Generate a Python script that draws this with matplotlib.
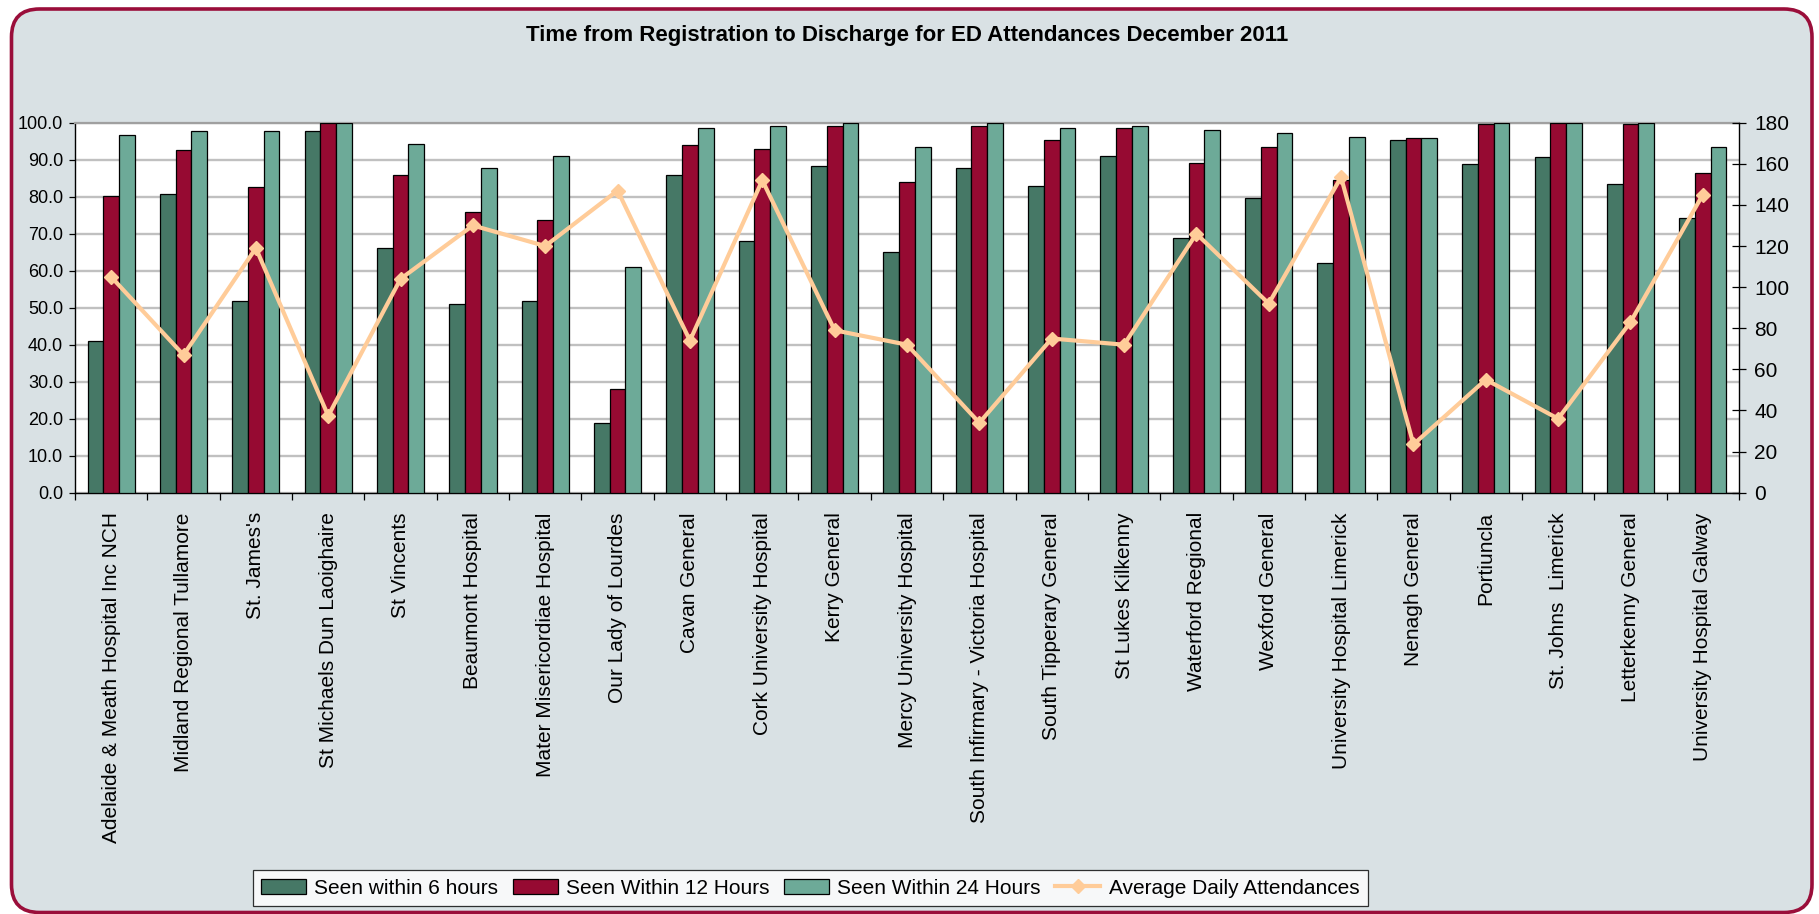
import numpy as np
import matplotlib
matplotlib.use('Agg')
import matplotlib.pyplot as plt
from matplotlib.patches import FancyBboxPatch, Patch
from matplotlib.lines import Line2D
from matplotlib.ticker import FixedLocator, FormatStrFormatter

plt.rcParams['font.family'] = ['Liberation Sans', 'DejaVu Sans']

# data
hospitals = [
    'Adelaide & Meath Hospital Inc NCH', 'Midland Regional Tullamore', "St. James's",
    'St Michaels Dun Laoighaire', 'St Vincents', 'Beaumont Hospital',
    'Mater Misericordiae Hospital', 'Our Lady of Lourdes', 'Cavan General',
    'Cork University Hospital', 'Kerry General', 'Mercy University Hospital',
    'South Infirmary - Victoria Hospital', 'South Tipperary General', 'St Lukes Kilkenny',
    'Waterford Regional', 'Wexford General', 'University Hospital Limerick',
    'Nenagh General', 'Portiuncla', 'St. Johns  Limerick', 'Letterkenny General',
    'University Hospital Galway',
]
within_6h = [41.1, 80.8, 51.9, 97.7, 66.1, 51.0, 51.9, 18.8, 85.9, 68.0, 88.2, 65.1,
             87.7, 83.0, 91.0, 68.9, 79.7, 62.2, 95.2, 88.8, 90.6, 83.5, 74.2]
within_12h = [80.2, 92.5, 82.6, 100.0, 85.9, 75.9, 73.6, 27.9, 93.9, 92.9, 99.0, 84.0,
              99.0, 95.3, 98.7, 89.1, 93.5, 84.5, 95.9, 99.6, 100.0, 99.6, 86.4]
within_24h = [96.8, 97.7, 97.7, 100.0, 94.3, 87.7, 91.1, 60.9, 98.7, 99.0, 100.0, 93.5,
              100.0, 98.7, 99.0, 98.1, 97.2, 96.2, 95.9, 100.0, 100.0, 100.0, 93.5]
avg_daily = [105, 67, 119, 37.4, 104, 130, 120, 147, 74, 152, 79, 72,
             34, 75, 72, 126, 92, 153.5, 23.5, 55, 36, 83, 145]

series_names = ['Seen within 6 hours', 'Seen Within 12 Hours', 'Seen Within 24 Hours']
bar_colors = ['#467866', '#960a32', '#6daa98']
line_color = '#ffcc99'
bg_color = '#d9e1e4'
frame_color = '#9a0e3a'

W, H = 1819, 914
fig = plt.figure(figsize=(W / 100, H / 100), dpi=100, facecolor='white')

# rounded frame behind everything, drawn in pixel units
bg = fig.add_axes([0, 0, 1, 1], zorder=-1)
bg.set_xlim(0, W)
bg.set_ylim(0, H)
bg.axis('off')
bg.add_patch(FancyBboxPatch((11.5, 1.5), 1800.5, 903.5,
                            boxstyle='round,pad=0,rounding_size=28',
                            facecolor=bg_color, edgecolor=frame_color, linewidth=2.6))

ax = fig.add_axes([75 / W, 1 - 492.7 / H, (1739 - 75) / W, (492.7 - 122.7) / H])
ax.set_facecolor('white')

n = len(hospitals)
x = np.arange(n)
bw = 0.2174
for j, (vals, col) in enumerate(zip([within_6h, within_12h, within_24h], bar_colors)):
    ax.bar(x + (j - 1) * bw, vals, width=bw, color=col, edgecolor='black',
           linewidth=0.9, zorder=3)

ax.set_xlim(-0.5, n - 0.5)
ax.set_ylim(0, 100)
ax.set_yticks(np.arange(0, 101, 10))
ax.yaxis.set_major_formatter(FormatStrFormatter('%.1f'))
ax.yaxis.grid(True, color='#c0c0c0', linewidth=1.7, zorder=0)
ax.set_axisbelow(True)
ax.tick_params(axis='y', direction='out', length=4.5, width=0.9, pad=4,
               labelsize=13)

ax.set_xticks(x)
ax.set_xticklabels(hospitals, rotation=90, fontsize=15, va='top', ha='center')
ax.tick_params(axis='x', which='major', length=0, pad=14)
ax.xaxis.set_minor_locator(FixedLocator(np.arange(-0.5, n, 1.0)))
ax.tick_params(axis='x', which='minor', direction='out', length=5, width=0.9)

for side in ['left', 'bottom']:
    ax.spines[side].set_linewidth(1.0)
ax.spines['right'].set_visible(False)
ax.spines['top'].set_color('#a0a0a0')
ax.spines['top'].set_linewidth(1.6)

ax2 = ax.twinx()
ax2.plot(x, avg_daily, color=line_color, linewidth=3, marker='D', markersize=7,
         zorder=5)
ax2.set_ylim(0, 180)
ax2.set_yticks(np.arange(0, 181, 20))
ax2.tick_params(axis='y', direction='inout', length=10, width=0.9, pad=6,
                labelsize=15)
ax2.spines['right'].set_linewidth(1.0)
for side in ['top', 'left', 'bottom']:
    ax2.spines[side].set_visible(False)

fig.text(907 / W, 1 - 41 / H,
         'Time from Registration to Discharge for ED Attendances December 2011',
         ha='center', va='baseline', fontsize=16, fontweight='bold')

handles = [Patch(facecolor=c, edgecolor='black', linewidth=0.9) for c in bar_colors]
handles.append(Line2D([], [], color=line_color, linewidth=3, marker='D', markersize=7))
labels = series_names + ['Average Daily Attendances']
leg = fig.legend(handles, labels, loc='lower left', bbox_to_anchor=(253 / W, 1 - 906 / H),
                 ncol=4, fontsize=15, frameon=True, fancybox=False, borderaxespad=0,
                 handlelength=2.15, handletextpad=0.4, columnspacing=0.7,
                 borderpad=0.4)
leg.get_frame().set_edgecolor('black')
leg.get_frame().set_linewidth(0.9)
leg.get_frame().set_facecolor('white')

fig.savefig('out.png', dpi=100, facecolor='white')
